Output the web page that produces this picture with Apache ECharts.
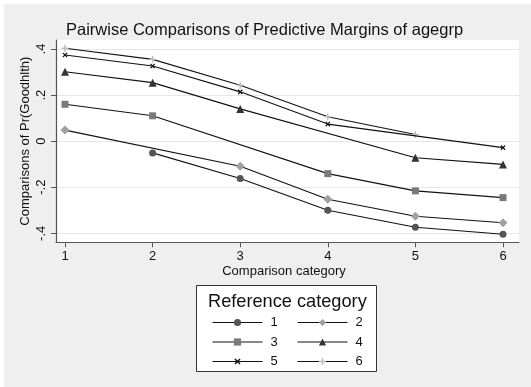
<!DOCTYPE html>
<html>
<head>
<meta charset="utf-8">
<script src="https://cdn.jsdelivr.net/npm/echarts@6/dist/echarts.min.js"></script>
<style>
html,body{margin:0;padding:0;background:#fff;}
#c{width:531px;height:387px;}
</style>
</head>
<body>
<div id="c"></div>
<script>
const categories = [1, 2, 3, 4, 5, 6];
const seriesNames = ['1', '2', '3', '4', '5', '6'];
const ref1 = [null, -0.051, -0.162, -0.300, -0.374, -0.404];
const ref2 = [0.048, null, -0.109, -0.252, -0.326, -0.354];
const ref3 = [0.160, 0.110, null, -0.141, -0.216, -0.245];
const ref4 = [0.301, 0.254, 0.140, null, -0.072, -0.101];
const ref5 = [0.374, 0.326, 0.214, 0.074, null, -0.028];
const ref6 = [0.403, 0.355, 0.243, 0.106, 0.029, null];
const yTicks = [-0.4, -0.2, 0, 0.2, 0.4];
const yTickLabels = ['-.4', '-.2', '0', '.2', '.4'];

const allValues = [ref1, ref2, ref3, ref4, ref5, ref6];
const plusPath = 'path://M4,0H6V4H10V6H6V10H4V6H0V4H4Z';
const markers = [
  {symbol: 'circle', size: 7, color: '#555555', rotate: 0},
  {symbol: 'diamond', size: 9, color: '#a0a0a0', rotate: 0},
  {symbol: 'rect', size: 7, color: '#7a7a7a', rotate: 0},
  {symbol: 'triangle', size: 8, color: '#333333', rotate: 0},
  {symbol: plusPath, size: 6, color: '#111111', rotate: 45},
  {symbol: plusPath, size: 7, color: '#bdbdbd', rotate: 0}
];

function pairs(vals) {
  const out = [];
  vals.forEach((v, i) => { if (v !== null) out.push([categories[i], v]); });
  return out;
}

const series = allValues.map((vals, i) => ({
  name: seriesNames[i],
  type: 'line',
  xAxisIndex: 2,
  yAxisIndex: 2,
  data: pairs(vals),
  symbol: markers[i].symbol,
  symbolSize: markers[i].size,
  symbolRotate: markers[i].rotate,
  showSymbol: true,
  clip: false,
  animation: false,
  z: 10 - i,
  lineStyle: {color: '#111111', width: 1.1},
  itemStyle: {color: markers[i].color, borderWidth: 0},
  emphasis: {disabled: true}
}));

const labelMap = {};
yTicks.forEach((t, i) => { labelMap[t.toFixed(1)] = yTickLabels[i]; });

const legendCommon = {
  orient: 'vertical', top: 316, itemWidth: 50, itemHeight: 9, itemGap: 6.5, padding: 0,
  lineStyle: {width: 1, color: '#111111'},
  textStyle: {fontFamily: 'Liberation Sans', fontSize: 13, color: '#111', padding: [0, 0, 0, 3]},
  selectedMode: false
};

const chart = echarts.init(document.getElementById('c'), null, {renderer: 'canvas'});
chart.setOption({
  backgroundColor: '#ffffff',
  animation: false,
  graphic: [
    {type: 'rect', left: 4, top: 4, shape: {width: 527, height: 383}, style: {fill: '#efefef'}, z: -10, silent: true},
    {type: 'rect', left: 196, top: 285, shape: {width: 180, height: 86}, style: {fill: '#ffffff', stroke: '#333333', lineWidth: 1}, z: 0, silent: true}
  ],
  title: [
    {text: 'Pairwise Comparisons of Predictive Margins of agegrp', left: 61, top: 17,
     textStyle: {fontFamily: 'Liberation Sans', fontSize: 16.5, fontWeight: 'normal', color: '#111'}},
    {text: 'Reference category', left: 203, top: 288,
     textStyle: {fontFamily: 'Liberation Sans', fontSize: 18.2, fontWeight: 'normal', color: '#111'}}
  ],
  legend: [
    Object.assign({data: ['1', '3', '5'], left: 212}, legendCommon),
    Object.assign({data: ['2', '4', '6'], left: 297}, legendCommon)
  ],
  grid: [
    {left: 56, top: 40, width: 463, height: 202, show: true, backgroundColor: '#ffffff', borderWidth: 0, containLabel: false},
    {left: 56, top: 49, width: 463, height: 184.3, show: false, containLabel: false},
    {left: 65, top: 49, width: 438, height: 184.3, show: false, containLabel: false}
  ],
  xAxis: [
    {gridIndex: 0, type: 'value', min: 0, max: 1, position: 'bottom',
     axisLine: {show: true, onZero: false, lineStyle: {color: '#555', width: 1.2}},
     axisTick: {show: false}, axisLabel: {show: false}, splitLine: {show: false}},
    {gridIndex: 1, type: 'value', min: 0, max: 1, show: false},
    {gridIndex: 2, type: 'value', min: 1, max: 6, interval: 1, position: 'bottom', offset: 9,
     name: 'Comparison category', nameLocation: 'middle', nameGap: 23, nameMoveOverlap: false,
     nameTextStyle: {fontFamily: 'Liberation Sans', fontSize: 13, color: '#111'},
     axisLine: {show: false, onZero: false},
     axisTick: {show: true, length: 5, lineStyle: {color: '#555', width: 1}},
     axisLabel: {fontFamily: 'Liberation Sans', fontSize: 13, color: '#111', margin: 8},
     splitLine: {show: false}}
  ],
  yAxis: [
    {gridIndex: 0, type: 'value', min: 0, max: 1, position: 'left',
     axisLine: {show: true, onZero: false, lineStyle: {color: '#555', width: 1.2}},
     axisTick: {show: false}, axisLabel: {show: false}, splitLine: {show: false}},
    {gridIndex: 1, type: 'value', min: -0.4, max: 0.4, interval: 0.2, position: 'left',
     name: 'Comparisons of Pr(Goodhlth)', nameLocation: 'middle', nameGap: 24, nameRotate: 90,
     nameMoveOverlap: false,
     nameTextStyle: {fontFamily: 'Liberation Sans', fontSize: 13, color: '#111'},
     axisLine: {show: false, onZero: false},
     axisTick: {show: true, length: 5, lineStyle: {color: '#555', width: 1}},
     axisLabel: {fontFamily: 'Liberation Sans', fontSize: 13, color: '#111', rotate: 90, margin: 8,
       formatter: v => labelMap[(Math.round(v * 10) / 10).toFixed(1)] || ''},
     splitLine: {show: true, lineStyle: {color: '#e6e6e6', width: 1}}},
    {gridIndex: 2, type: 'value', min: -0.4, max: 0.4, show: false}
  ],
  series: series
});
</script>
</body>
</html>
